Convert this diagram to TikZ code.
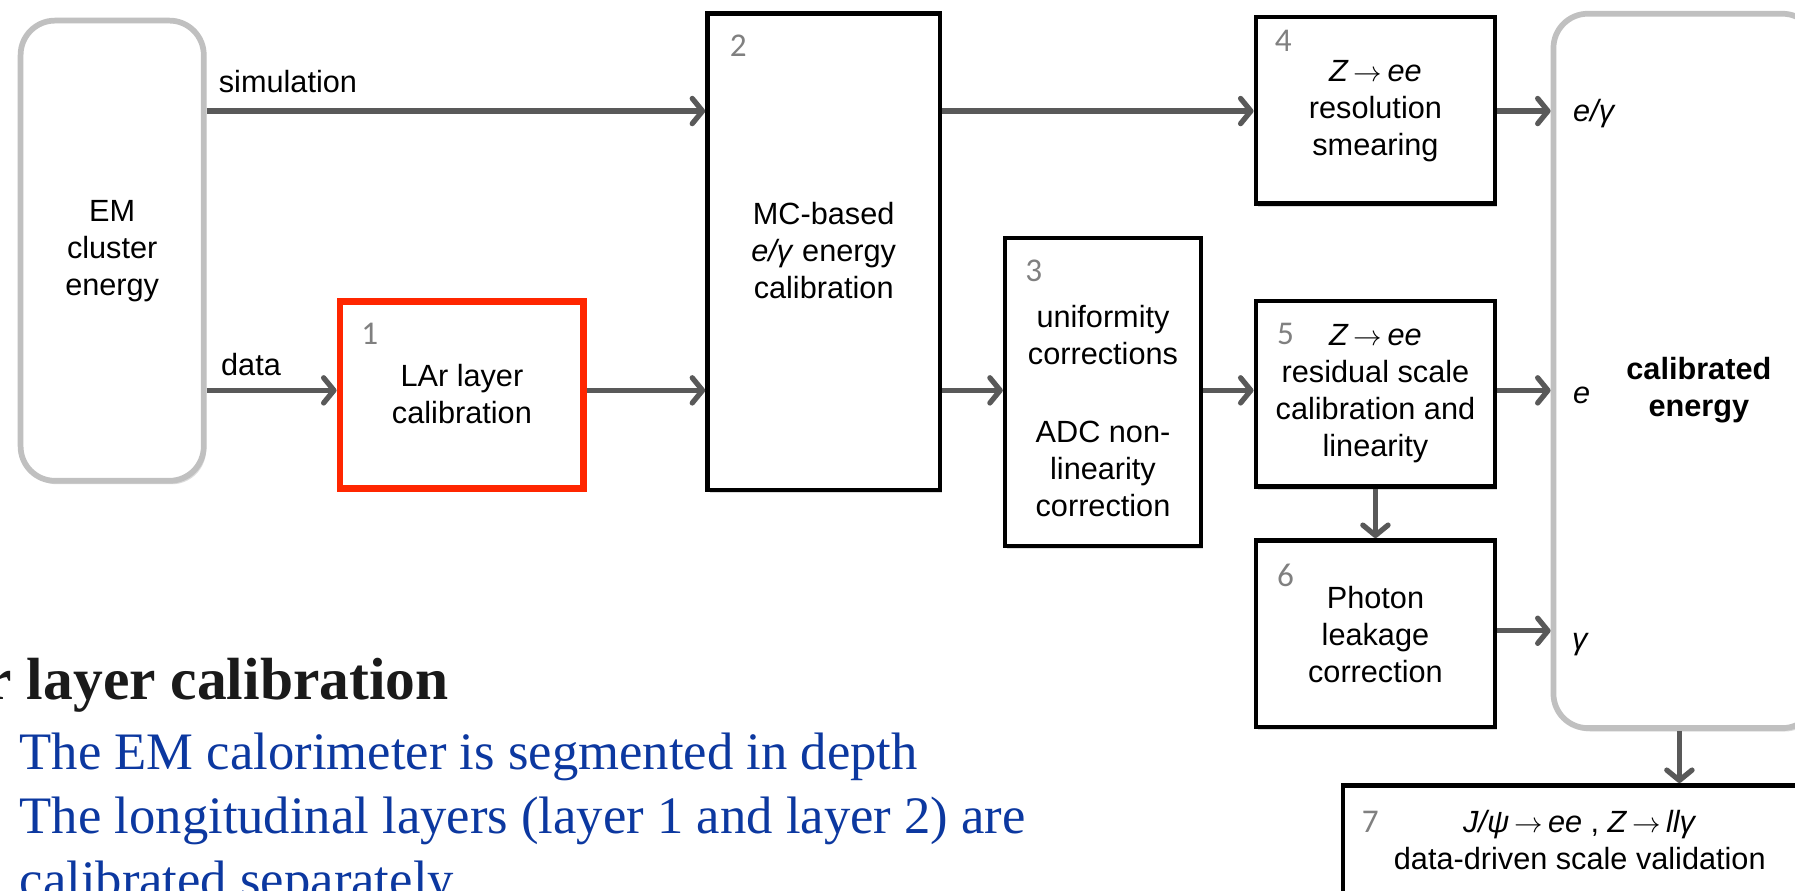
\documentclass[tikz,border=0pt]{standalone}
\usepackage{fontspec}
\setmainfont{Liberation Sans}
\newfontfamily\seriff{Liberation Serif}
\newfontfamily\numff{Carlito}
\usetikzlibrary{arrows.meta,shadows}
\definecolor{arrgray}{RGB}{89,89,89}
\definecolor{boxgray}{RGB}{192,192,192}
\definecolor{numgray}{RGB}{128,128,128}
\definecolor{redbox}{RGB}{255,38,0}
\definecolor{bluetxt}{RGB}{12,56,160}
\definecolor{titleblack}{RGB}{26,26,26}
\newcommand{\mainfs}{\fontsize{26.8}{32.3}\selectfont}
\newcommand{\arr}{\,$\rightarrow$\,}
\begin{document}
\begin{tikzpicture}[x=1pt,y=-1pt,
  shad/.style={drop shadow={shadow xshift=2pt,shadow yshift=-3pt,opacity=0.28}},
  box/.style={draw=black,line width=4pt,fill=white,inner sep=0pt,shad},
  redb/.style={draw=redbox,line width=6pt,fill=white,inner sep=0pt,shad},
  roundbox/.style={draw=boxgray,line width=5pt,rounded corners=30pt,fill=white,inner sep=0pt,shad},
  arr/.style={draw=arrgray,line width=4.6pt,-{Straight Barb[length=9pt,width=22pt,round]}},
  num/.style={font=\numff\fontsize{29}{29}\selectfont,text=numgray,inner sep=0pt},
  txt/.style={font=\mainfs,align=center,inner sep=0pt},
  lbl/.style={font=\mainfs\itshape,inner sep=0pt},
  bodytxt/.style={font=\seriff\fontsize{46}{48}\selectfont,text=bluetxt,inner sep=0pt,anchor=base west},
]
\clip (0,0) rectangle (1568,778);
\fill[white] (0,0) rectangle (1568,778);

% boxes
\node[roundbox,minimum width=160pt,minimum height=402pt] (em) at (98,219) {};
\node[txt] at (98,219) {EM\\cluster\\energy};

\node[redb,minimum width=213pt,minimum height=164pt] (b1) at (403.5,345) {};
\node[txt] at (403.5,344) {LAr layer\\calibration};
\node[num] at (323,292) {1};

\node[box,minimum width=203pt,minimum height=416pt] (b2) at (719.5,220) {};
\node[txt] at (719.5,219) {MC-based\\\textit{e/γ} energy\\calibration};
\node[num] at (645,40) {2};

\node[box,minimum width=171pt,minimum height=269pt] (b3) at (963.5,342.5) {};
\node[txt] at (963.5,359) {uniformity\\corrections\\[36pt]ADC non-\\linearity\\correction};
\node[num] at (903,237) {3};

\node[box,minimum width=209pt,minimum height=163pt] (b4) at (1201.5,96.5) {};
\node[txt] at (1201.5,97) {\textit{Z}\arr\textit{ee}\\resolution\\smearing};
\node[num] at (1121,36) {4};

\node[box,minimum width=209pt,minimum height=162pt] (b5) at (1201.5,344) {};
\node[txt] at (1201.5,344) {\textit{Z}\arr\textit{ee}\\residual scale\\calibration and\\linearity};
\node[num] at (1123,292) {5};

\node[box,minimum width=209pt,minimum height=163pt] (b6) at (1201.5,553.5) {};
\node[txt] at (1201.5,554) {Photon\\leakage\\correction};
\node[num] at (1123,503) {6};

\node[roundbox,minimum width=230pt,minimum height=624pt] (cal) at (1472,324) {};
\node[txt,font=\mainfs\bfseries] at (1484,341) {calibrated\\energy};

\node[box,minimum width=420pt,minimum height=94pt] (b7) at (1383,733) {};
\node[txt] at (1380,734) {\textit{J/ψ}\arr\textit{ee} , \textit{Z}\arr\textit{llγ}\\data-driven scale validation};
\node[num] at (1197,718) {7};

% arrows
\coordinate (ysim) at (0,97);
\coordinate (ydat) at (0,341);
\coordinate (ygam) at (0,551);
\draw[arr] (em.east |- ysim) -- (b2.west |- ysim);
\draw[arr] (em.east |- ydat) -- (b1.west |- ydat);
\node[txt,anchor=base west] (simlbl) at (191,81) {simulation};
\node[txt,anchor=base west] (datlbl) at (193,328) {data};
\draw[arr] (b1.east |- ydat) -- (b2.west |- ydat);
\draw[arr] (b2.east |- ysim) -- (b4.west |- ysim);
\draw[arr] (b2.east |- ydat) -- (b3.west |- ydat);
\draw[arr] (b3.east |- ydat) -- (b5.west |- ydat);
\draw[arr] (b4.east |- ysim) -- (cal.west |- ysim);
\draw[arr] (b5.east |- ydat) -- (cal.west |- ydat);
\draw[arr] (b5.south) -- (b6.north);
\draw[arr] (b6.east |- ygam) -- (cal.west |- ygam);
\draw[arr] (cal.south -| 1467,0) -- (b7.north -| 1467,0);

% labels at calibrated energy
\node[lbl,anchor=west] (lab1) at (1374,99) {e/γ};
\node[lbl,anchor=west] (lab2) at (1374,345) {e};
\node[lbl,anchor=west] (lab3) at (1373,563) {γ};

% slide text
\node[font=\seriff\bfseries\fontsize{52}{52}\selectfont,text=titleblack,inner sep=0pt,anchor=base east] (title) at (392,611) {LAr layer calibration};
\node[bodytxt] (l1) at (17,672) {The EM calorimeter is segmented in depth};
\node[bodytxt] (l2) at (17,728) {The longitudinal layers (layer 1 and layer 2) are};
\node[bodytxt] (l3) at (17,784) {calibrated separately};
\end{tikzpicture}
\end{document}
